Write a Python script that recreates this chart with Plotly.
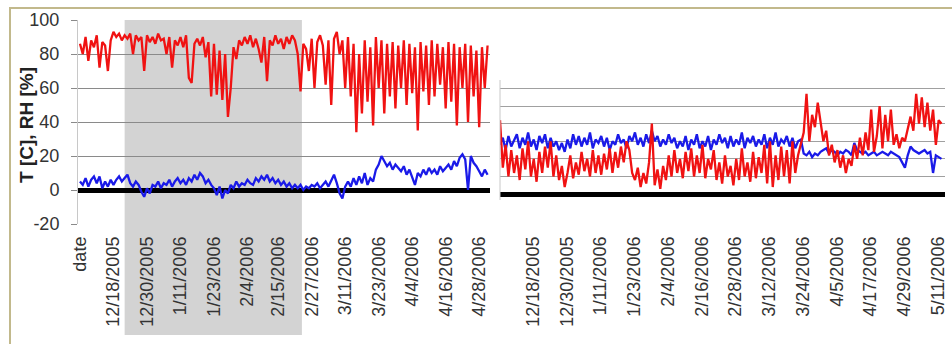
import pandas as pd
import plotly.graph_objects as go

# ---------------- data ----------------
LEFT_START = "2005-12-06"
RIGHT_START = "2005-12-06 06:00"

left_rh = [86,80,90,76,88,84, 91,72,87,85,70,88, 93,90,92,88,91,89, 92,80,91,88,90,70,
           91,87,90,86,92,88, 89,80,90,72,88,85, 90,84,91,66,63,86, 89,85,90,78,87,55,
           86,56,82,53,80,43, 60,84,77,88,85,90, 86,91,84,89,83,75, 90,64,88,85,91,86,
           89,83,90,86,91,88, 80,58,86,83,70,89, 60,87,91,85,62,88, 50,89,93,80,88,60,
           90,55,86,34,80,45, 88,52,84,38,90,60, 88,45,86,55,87,48, 85,60,88,50,86,57,
           84,35,87,58,85,50, 88,55,86,62,84,48, 87,52,86,38,84,60, 86,40,85,55,82,37,
           84,60,85]
left_t = [5,3,7,2,6,8, 4,8,1,5,2,6, 3,6,8,5,7,9, 4,2,5,3,-1,-4,
          1,-2,3,2,5,1, 4,3,6,2,5,7, 4,6,3,7,5,9, 6,10,8,4,6,3,
          1,-3,2,-5,0,-2, 3,1,5,2,4,3, 6,4,3,7,5,8, 6,9,5,7,4,6,
          3,5,2,4,1,3, 1,3,0,2,1,3, 2,4,1,3,5,2, 6,9,4,-2,-5,2,
          5,2,7,3,8,4, 10,3,7,5,12,15, 20,17,14,16,12,15, 13,11,14,9,12,7,
          3,10,8,12,9,13, 10,12,9,14,11,13, 15,12,17,14,19,21, 18,0,20,16,14,11,
          8,12,9]

right_rh = [42,15,28,10,25,12, 22,8,26,14,30,10, 20,7,24,12,27,15, 30,10,22,8,16,4,
            12,22,9,18,11,24, 13,20,10,25,12,22, 11,23,14,26,12,24, 15,27,18,30,25,12,
            8,15,4,12,6,18, 40,5,14,3,16,8, 22,10,25,12,20,9, 24,13,26,10,22,12,
            28,9,20,14,25,8, 18,6,22,10,16,5, 20,8,26,10,18,7, 24,9,21,12,28,6,
            30,4,22,8,27,10, 25,6,30,12,22,28, 35,57,30,45,38,52, 40,30,36,22,28,18,
            25,15,22,12,20,16, 28,20,32,22,35,25, 48,24,33,50,26,45, 30,48,28,34,26,32,
            30,38,44,36,57,40, 55,38,52,36,48,28, 42,40]
right_t = [28,32,25,33,27,31, 34,26,32,28,35,27, 31,25,33,29,34,26, 32,27,30,25,29,24,
           31,26,34,28,33,27, 32,28,35,26,31,29, 33,27,32,25,30,28, 34,29,31,26,33,30,
           35,28,32,27,34,29, 36,30,33,27,31,28, 34,29,32,26,30,27, 33,25,31,28,34,26,
           30,27,33,25,31,28, 34,29,32,26,33,27, 31,28,35,26,32,29, 33,27,31,28,34,26,
           32,28,35,27,31,29, 33,27,32,26,30,31, 23,22,24,21,23,22, 24,25,26,23,25,24,
           22,24,23,25,24,22, 29,25,24,23,24,22, 23,24,22,23,24,23, 22,24,23,22,21,18,
           15,22,27,25,24,23, 24,25,23,24,12,22, 21,20]

left_tickvals = ["2005-12-06", "2005-12-18", "2005-12-30", "2006-01-11", "2006-01-23",
                 "2006-02-04", "2006-02-15", "2006-02-27", "2006-03-11", "2006-03-23",
                 "2006-04-04", "2006-04-16", "2006-04-28"]
left_ticktext = ["date", "12/18/2005", "12/30/2005", "1/11/2006", "1/23/2006", "2/4/2006",
                 "2/15/2006", "2/27/2006", "3/11/2006", "3/23/2006", "4/4/2006",
                 "4/16/2006", "4/28/2006"]
right_tickvals = ["2005-12-18", "2005-12-30", "2006-01-11", "2006-01-23", "2006-02-04",
                  "2006-02-16", "2006-02-28", "2006-03-12", "2006-03-24", "2006-04-05",
                  "2006-04-17", "2006-04-29", "2006-05-11"]
right_ticktext = ["12/18/2005", "12/30/2005", "1/11/2006", "1/23/2006", "2/4/2006",
                  "2/16/2006", "2/28/2006", "3/12/2006", "3/24/2006", "4/5/2006",
                  "4/17/2006", "4/29/2006", "5/11/2006"]
left_yticks = [-20, 0, 20, 40, 60, 80, 100]
left_yticktext = ["-20", "0", "20", "40", "60", "80", "100"]
right_grid = [10, 20, 30, 40, 50, 60]
shade_period = ["2005-12-22", "2006-02-23 12:00"]

left_x = pd.date_range(LEFT_START, periods=len(left_rh), freq="D")
right_x = pd.date_range(RIGHT_START, periods=len(right_rh), freq="D")

RED = "#f01212"
BLUE = "#1a1ae8"
W, H = 952, 344
FONT = "Liberation Sans, Arial, sans-serif"
LW = 2.3

fig = go.Figure()
fig.add_trace(go.Scatter(x=left_x, y=left_rh, mode="lines", line=dict(color=RED, width=LW),
                         xaxis="x", yaxis="y", showlegend=False))
fig.add_trace(go.Scatter(x=left_x, y=left_t, mode="lines", line=dict(color=BLUE, width=LW),
                         xaxis="x", yaxis="y", showlegend=False))
fig.add_trace(go.Scatter(x=right_x, y=right_t, mode="lines", line=dict(color=BLUE, width=LW),
                         xaxis="x2", yaxis="y2", showlegend=False))
fig.add_trace(go.Scatter(x=right_x, y=right_rh, mode="lines", line=dict(color=RED, width=LW),
                         xaxis="x2", yaxis="y2", showlegend=False))

def px_x(p):
    return p / W

def px_y(p):
    return (224 - p) / 204

tickfont = dict(family=FONT, size=18, color="#333333")

fig.update_layout(
    width=W, height=H, autosize=False,
    margin=dict(l=0, r=0, t=20, b=120, pad=0),
    paper_bgcolor="white", plot_bgcolor="rgba(0,0,0,0)",
    font=dict(family=FONT, color="#333333"),
    xaxis=dict(domain=[px_x(78), px_x(490)], type="date", automargin=False,
               range=["2005-12-05 07:00", "2006-05-01 21:00"],
               tickvals=left_tickvals, ticktext=left_ticktext, tickangle=-90,
               tickfont=tickfont, showgrid=False, zeroline=False, ticks="",
               ticklabelstandoff=8,
               showline=False, anchor="y"),
    yaxis=dict(domain=[0, 1], range=[-20, 100], tickvals=left_yticks, automargin=False,
               ticktext=left_yticktext,
               tickfont=tickfont, showgrid=True, gridcolor="#8a8a8a", gridwidth=1,
               zeroline=True, zerolinecolor="black", zerolinewidth=5,
               showline=True, linecolor="#c8c8c8", linewidth=1,
               ticks="outside", ticklen=6, tickcolor="#8a8a8a",
               ticklabelstandoff=8, anchor="x"),
    xaxis2=dict(domain=[px_x(500), px_x(945)], type="date", automargin=False,
                range=["2005-12-06 06:00", "2006-05-13 12:00"],
                tickvals=right_tickvals, ticktext=right_ticktext, tickangle=-90,
                tickfont=tickfont, showgrid=False, zeroline=False, ticks="",
                ticklabelstandoff=8,
                showline=False, anchor="y2"),
    yaxis2=dict(domain=[0, 1], range=[-17, 98.9], tickvals=right_grid, automargin=False,
                showticklabels=False, showgrid=True, gridcolor="#a0a0a0", gridwidth=1,
                zeroline=True, zerolinecolor="black", zerolinewidth=5,
                showline=False, anchor="x2"),
)

# shaded period in the left panel
fig.add_shape(type="rect", xref="x", yref="paper", x0=shade_period[0], x1=shade_period[1],
              y0=px_y(335), y1=px_y(20), fillcolor="#d3d3d3", line=dict(width=0), layer="below")
# left edge line of the right panel
fig.add_shape(type="line", xref="paper", yref="paper", x0=px_x(500), x1=px_x(500),
              y0=px_y(200), y1=px_y(80), line=dict(color="#c8c8c8", width=1))
# outer frame
fig.add_shape(type="rect", xref="paper", yref="paper", x0=px_x(10), x1=px_x(970),
              y0=px_y(360), y1=px_y(8), line=dict(color="#c2b98c", width=2),
              fillcolor="rgba(0,0,0,0)", layer="below")

fig.add_annotation(text="<b>T [C], RH [%]</b>", xref="paper", yref="paper",
                   x=px_x(27), y=px_y(125), textangle=-90, showarrow=False,
                   font=dict(family=FONT, size=19, color="#222222"),
                   xanchor="center", yanchor="middle")

fig.write_html("out.html")
